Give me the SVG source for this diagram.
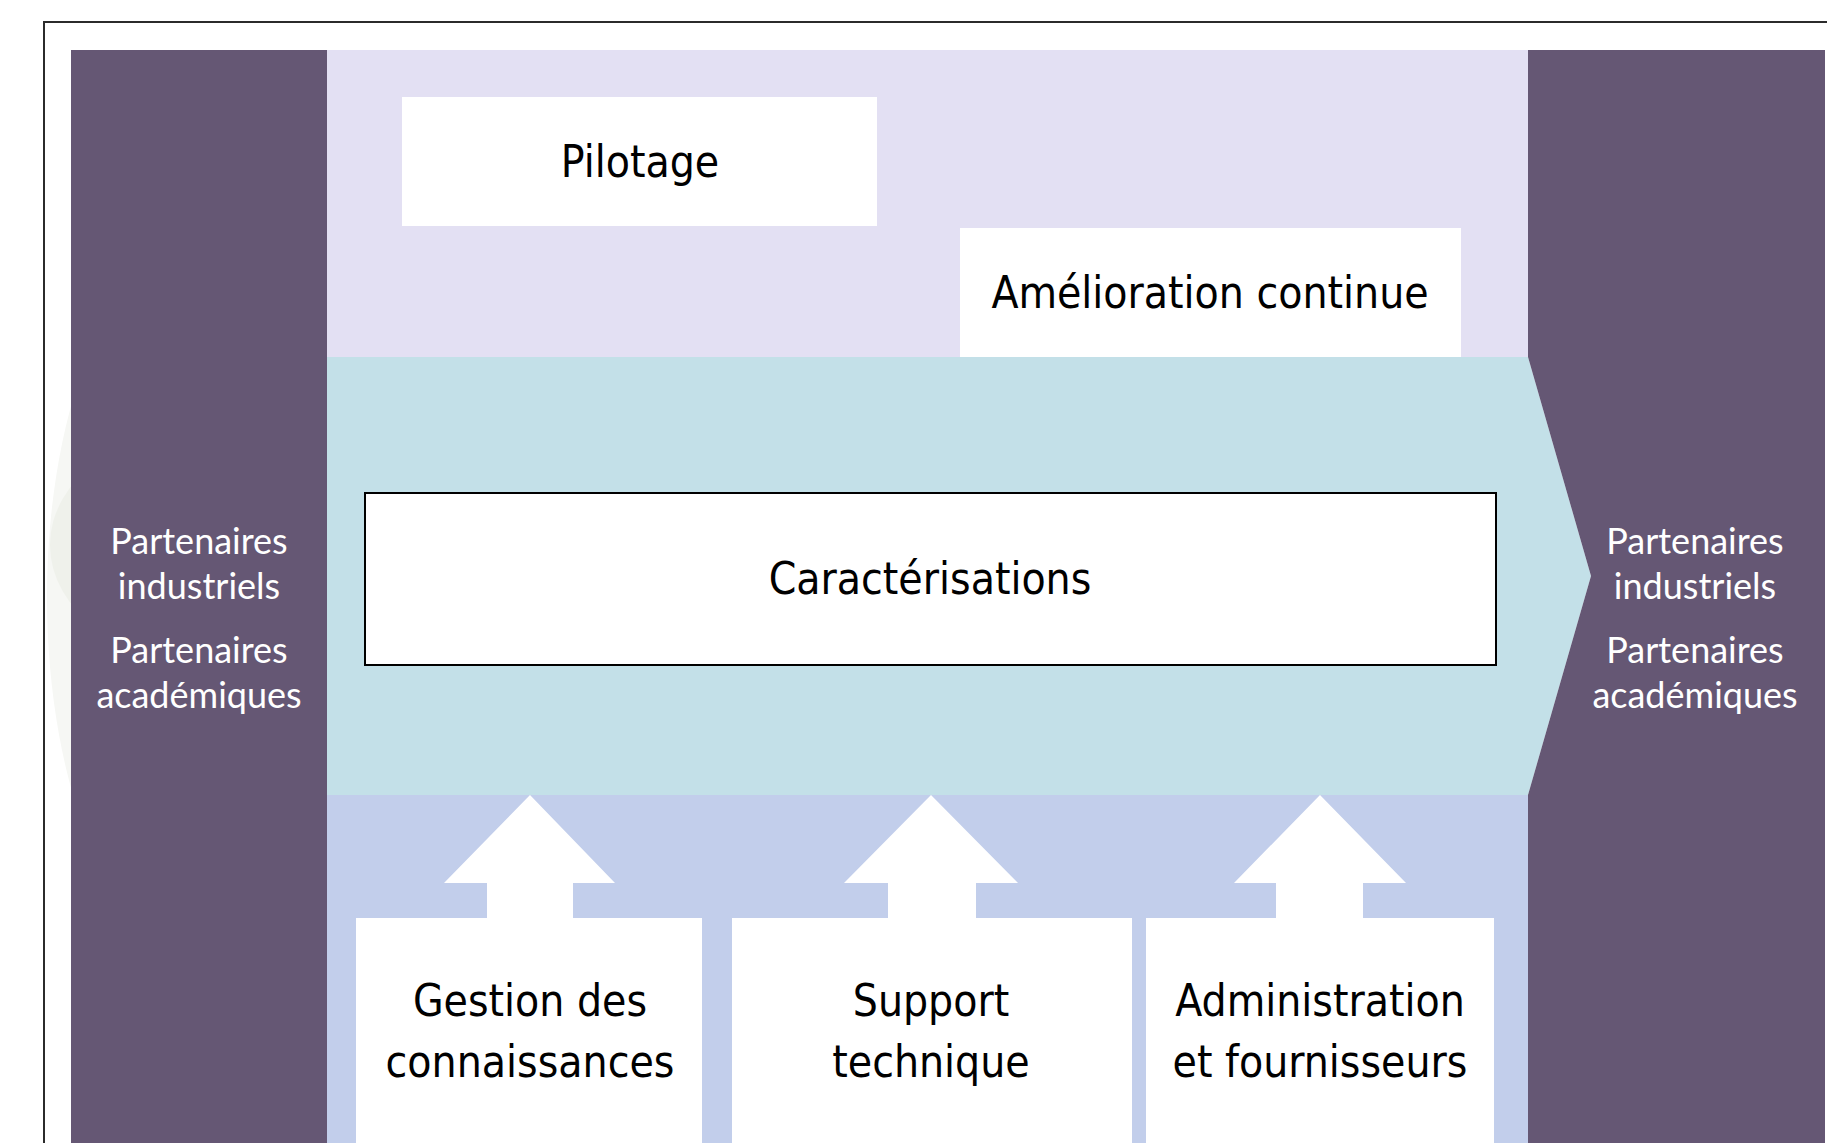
<svg xmlns="http://www.w3.org/2000/svg" width="1827" height="1143" viewBox="0 0 1827 1143">
<style>
.box{fill:#ffffff}
.lbl{font-family:"DejaVu Sans Condensed","DejaVu Sans",sans-serif;font-size:44px;fill:#000;text-anchor:middle}
.side{font-family:Lato,"Noto Sans",sans-serif;font-size:36px;fill:#ffffff;text-anchor:middle}
.col{fill:#655774}
.arrow{fill:#ffffff}
</style>
<rect x="0" y="0" width="1827" height="1143" fill="#ffffff"/>
<rect id="frame" x="44" y="22" width="1820" height="1200" fill="none" stroke="#2b2b2b" stroke-width="2"/>
<g id="watermark">
<ellipse cx="205" cy="597" rx="158" ry="360" fill="#F6F7F4"/>
<ellipse cx="215" cy="545" rx="165" ry="120" fill="#EFF1EB"/>
</g>
<g id="bands">
<rect x="327" y="50" width="1201" height="308" fill="#E3E0F3"/>
<rect x="327" y="795" width="1201" height="348" fill="#C2CEEB"/>
<polygon points="327,357 1528,357 1591,576 1528,795 327,795" fill="#C3E0E8"/>
</g>
<g id="partenaires-gauche">
<rect class="col" x="71" y="50" width="256" height="1093"/>
<text class="side" x="199" y="554">Partenaires</text>
<text class="side" x="199" y="599">industriels</text>
<text class="side" x="199" y="663">Partenaires</text>
<text class="side" x="199" y="708">académiques</text>
</g>
<g id="partenaires-droite">
<path class="col" d="M1528,50 H1825 V1143 H1528 V795 L1591,576 L1528,357 Z"/>
<text class="side" x="1695" y="554">Partenaires</text>
<text class="side" x="1695" y="599">industriels</text>
<text class="side" x="1695" y="663">Partenaires</text>
<text class="side" x="1695" y="708">académiques</text>
</g>
<g id="pilotage">
<rect class="box" x="402" y="97" width="475" height="129"/>
<text class="lbl" x="640" y="177">Pilotage</text>
</g>
<g id="amelioration">
<rect class="box" x="960" y="228" width="501" height="129"/>
<text class="lbl" x="1210" y="308">Amélioration continue</text>
</g>
<g id="caracterisations">
<rect class="box" x="365" y="493" width="1131" height="172" stroke="#000" stroke-width="2"/>
<text class="lbl" x="930" y="594">Caractérisations</text>
</g>
<g id="connectors">
<polygon class="arrow" points="530,795 615,883 573,883 573,920 487,920 487,883 444,883"/>
<polygon class="arrow" points="931,795 1018,883 976,883 976,920 888,920 888,883 844,883"/>
<polygon class="arrow" points="1320,795 1406,883 1363,883 1363,920 1276,920 1276,883 1234,883"/>
</g>
<g id="gestion">
<rect class="box" x="356" y="918" width="346" height="225"/>
<text class="lbl" x="530" y="1016">Gestion des</text>
<text class="lbl" x="530" y="1077">connaissances</text>
</g>
<g id="support">
<rect class="box" x="732" y="918" width="400" height="225"/>
<text class="lbl" x="931" y="1016">Support</text>
<text class="lbl" x="931" y="1077">technique</text>
</g>
<g id="administration">
<rect class="box" x="1146" y="918" width="348" height="225"/>
<text class="lbl" x="1320" y="1016">Administration</text>
<text class="lbl" x="1320" y="1077">et fournisseurs</text>
</g>
</svg>
